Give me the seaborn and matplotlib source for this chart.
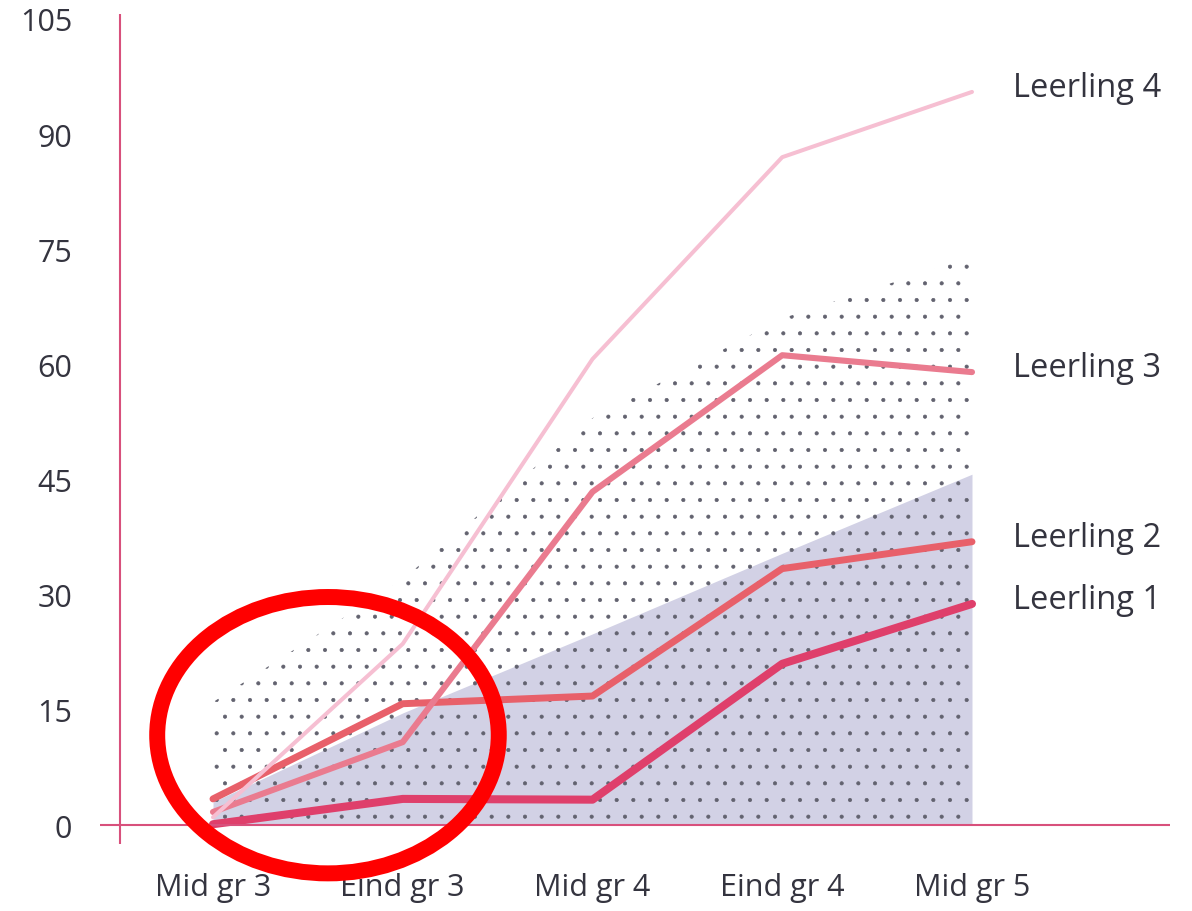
import numpy as np
import pandas as pd
import seaborn as sns
from matplotlib import pyplot as plt
from matplotlib.patches import Ellipse

# meetmomenten en scores per leerling
moments = ["Mid gr 3", "Eind gr 3", "Mid gr 4", "Eind gr 4", "Mid gr 5"]
leerling_1 = [0.1, 3.4, 3.3, 21.0, 28.8]
leerling_2 = [3.4, 15.8, 16.8, 33.4, 36.9]
leerling_3 = [1.7, 10.8, 43.4, 61.2, 59.0]
leerling_4 = [1.0, 23.6, 60.7, 87.0, 95.5]

# gestippelde band (bovengrens) en blauwgrijze band (bovengrens)
dotted_top = [16.0, 32.0, 53.0, 66.0, 74.0]
shaded_top = [3.0, 14.6, 24.9, 35.4, 45.7]

y_ticks = [0, 15, 30, 45, 60, 75, 90, 105]

TEXT = "#34343f"
AXIS_PINK = "#d8507c"
colors = {
    "Leerling 1": "#df3f6b",
    "Leerling 2": "#e8606a",
    "Leerling 3": "#ea7b8f",
    "Leerling 4": "#f6bfd2",
}
widths = {
    "Leerling 1": 5.8,
    "Leerling 2": 5.0,
    "Leerling 3": 4.4,
    "Leerling 4": 2.9,
}

x = np.arange(len(moments))
df = pd.DataFrame({
    "moment": np.tile(x, 4),
    "score": leerling_1 + leerling_2 + leerling_3 + leerling_4,
    "leerling": np.repeat(["Leerling 1", "Leerling 2", "Leerling 3", "Leerling 4"], len(moments)),
})

sns.set_style("white")
plt.rcParams['font.family'] = ['Open Sans', 'DejaVu Sans']
plt.rcParams['font.weight'] = 'medium'
plt.rcParams['hatch.linewidth'] = 0.5

fig = plt.figure(figsize=(11.92, 9.12), dpi=100)
ax = fig.add_axes([100 / 1192, 67 / 912, 1070 / 1192, 830 / 912])

# banden
ax.fill_between(x, 0, shaded_top, color="#d2d1e5", linewidth=0, zorder=1)
ax.fill_between(x, 0, dotted_top, facecolor="none", edgecolor="#62626f",
                hatch=".", linewidth=0, zorder=2)

sns.lineplot(data=df, x="moment", y="score", hue="leerling", palette=colors,
             size="leerling", sizes=widths, legend=False, ax=ax, zorder=3)

# labels aan het eind van de lijnen
ends = {"Leerling 1": leerling_1[-1], "Leerling 2": leerling_2[-1],
        "Leerling 3": leerling_3[-1], "Leerling 4": leerling_4[-1]}
for name, val in ends.items():
    ax.text(x[-1] + 0.216, val + 0.6, name, fontsize=23.5, color=TEXT,
            ha="left", va="center")

# assen
for s in ax.spines.values():
    s.set_visible(False)
ax.axhline(0, color=AXIS_PINK, linewidth=1.5, zorder=4)
ax.axvline(-0.49, color=AXIS_PINK, linewidth=1.5, zorder=4)

ax.set_xlim(-0.5955, 5.0435)
ax.set_ylim(-2.475, 105.65)
ax.set_xticks(x)
ax.set_xticklabels(moments)
ax.set_yticks(y_ticks)
ax.tick_params(axis="both", length=0, labelsize=22, labelcolor=TEXT)
ax.tick_params(axis="y", pad=20)
ax.tick_params(axis="x", pad=20)
ax.set_xlabel("")
ax.set_ylabel("")

# rode markering linksonder
ring = Ellipse((0.606, 11.7), 1.80, 36.0, fill=False, edgecolor="#ff0000",
               linewidth=11.5, zorder=5, clip_on=False)
ax.add_patch(ring)

fig.savefig("out.png", dpi=100)
